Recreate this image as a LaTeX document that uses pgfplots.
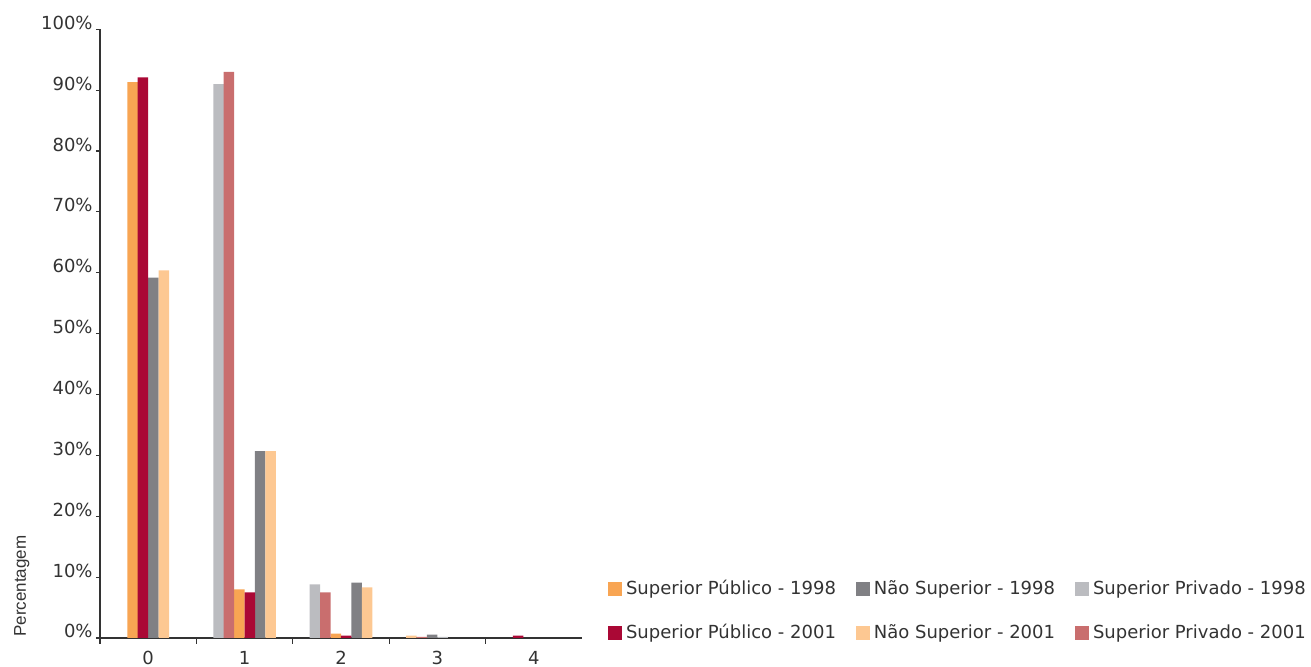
\documentclass[border=0pt]{standalone}
\usepackage{pgfplots}
\pgfplotsset{compat=1.18}
\usepackage{fontspec}
\setmainfont{DejaVu Sans}
\newfontfamily\labfont{Liberation Sans}
\definecolor{cSPa}{HTML}{F8A553}
\definecolor{cSPb}{HTML}{AA0835}
\definecolor{cNSa}{HTML}{808084}
\definecolor{cNSb}{HTML}{FDC892}
\definecolor{cPRa}{HTML}{BBBCC0}
\definecolor{cPRb}{HTML}{C96E6E}
\definecolor{txt}{HTML}{333333}
\begin{document}
\begin{tikzpicture}
\begin{axis}[
  at={(0,0)}, anchor=south west,
  scale only axis, width=241pt, height=304.35pt,
  xmin=-0.5, xmax=4.5, ymin=0, ymax=100,
  axis x line*=bottom, axis y line*=left,
  axis line style={txt, line width=0.6pt},
  every tick/.style={txt, line width=0.6pt},
  tick align=outside,
  xtick={0,1,2,3,4}, major x tick style={draw=none},
  minor xtick={-0.5,0.5,1.5,2.5,3.5}, minor tick length=3pt,
  xticklabel style={anchor=base, yshift=-11.3pt, font=\fontsize{9}{10}\selectfont, text=txt},
  ytick={0,10,...,100}, major tick length=2pt,
  yticklabel={\pgfmathprintnumber{\tick}\%},
  /pgf/number format/assume math mode=true,
  yticklabel style={anchor=base east, inner sep=0pt, xshift=-1.5pt, font=\fontsize{9}{10}\selectfont, text=txt},
  ybar, bar width=5.25pt, bar shift=0pt,
  legend columns=3,
  legend cell align=left,
  legend image code/.code={\fill[#1,draw=none] (0pt,-3.5pt) rectangle (7pt,3.5pt);},
  legend style={draw=none, fill=none, inner sep=0pt, outer sep=0pt,
    at={(1.054,-0.013)}, anchor=south west,
    font=\fontsize{9}{10}\selectfont, text=txt,
    /tikz/every even column/.append style={column sep=8pt},
    row sep=9.5pt},
]
\addplot[fill=cSPa, draw=none] coordinates {(-0.162,91.3) (0.946,8.0) (1.946,0.7)};
\addlegendentry{Superior Público - 1998}
\addplot[fill=cNSa, draw=none] coordinates {(0.054,59.2) (1.162,30.7) (2.162,9.1) (2.946,0.55)};
\addlegendentry{Não Superior - 1998}
\addplot[fill=cPRa, draw=none] coordinates {(0.73,91.0) (1.73,8.8) (3.054,0.2)};
\addlegendentry{Superior Privado - 1998}
\addplot[fill=cSPb, draw=none] coordinates {(-0.054,92.1) (1.054,7.5) (2.054,0.4) (3.838,0.4)};
\addlegendentry{Superior Público - 2001}
\addplot[fill=cNSb, draw=none] coordinates {(0.162,60.4) (1.27,30.7) (2.27,8.3) (2.73,0.4)};
\addlegendentry{Não Superior - 2001}
\addplot[fill=cPRb, draw=none] coordinates {(0.838,93.0) (1.838,7.5) (2.838,0.2)};
\addlegendentry{Superior Privado - 2001}
\end{axis}
\node[rotate=90, anchor=base west, inner sep=0pt, text=txt, font=\labfont\fontsize{8.5}{9}\selectfont] at (-37pt,0.5pt) {Percentagem};
\pgfresetboundingbox
\useasboundingbox (-50pt,-14.5pt) rectangle (605.5pt,319pt);
\end{tikzpicture}
\end{document}
